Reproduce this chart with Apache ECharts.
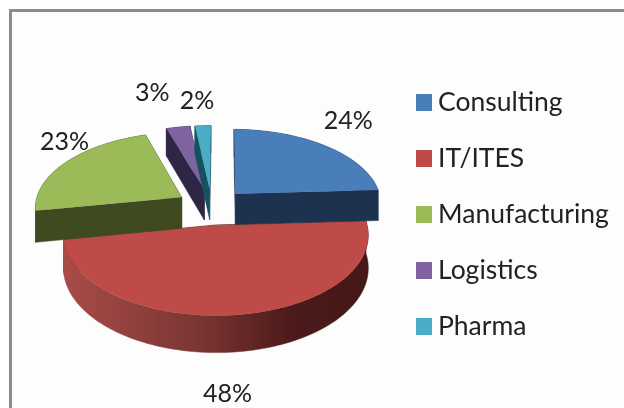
<!DOCTYPE html>
<html>
<head>
<meta charset="utf-8">
<title>Sector share</title>
<style>
  html, body { margin: 0; padding: 0; background: #fff; }
  #chart { width: 624px; height: 408px; }
</style>
<script src="https://cdn.jsdelivr.net/npm/echarts@6/dist/echarts.min.js"></script>
</head>
<body>
<div id="chart"></div>
<script>
  // 数据
  const categories = ['Consulting', 'IT/ITES', 'Manufacturing', 'Logistics', 'Pharma'];
  const shares = [24, 48, 23, 3, 2];

  // 样式
  const topColors = ['#4a7ebb', '#be4b48', '#9bbb59', '#8064a2', '#4bacc6'];
  const wallColors = ['#1d324e', '#4c1a1a', '#3f4a20', '#2f2545', '#17505f'];
  const paintOrder = [3, 1, 2, 4, 5];
  const labelNudge = [[23, -25], [-9, 79], [-2, -20], [-26, -34], [-6, -25]];

  // 透视饼图参数
  const centerX = 211.5;
  const centerY = 206.5;
  const radiusX = 147;
  const radiusY = 75;
  const thickness = 31.5;
  const perspective = 0.12;
  const explode = 0.24;
  const firstAngle = 0.5;

  const total = shares.reduce((a, b) => a + b, 0);
  const toRad = (d) => (d * Math.PI) / 180;

  // 投影: 角度 0 在正上方, 顺时针
  const project = (offset, deg, r, drop) => {
    const u = offset[0] + r * Math.sin(toRad(deg));
    const v = offset[1] - r * Math.cos(toRad(deg));
    const s = 1 / (1 - perspective * v);
    return [centerX + radiusX * u * s, centerY + radiusY * v * s + drop * s];
  };

  const wall = (points, fill) => ({
    type: 'polygon',
    shape: { points },
    style: { fill, stroke: fill, lineWidth: 0.5 },
  });

  const makeRenderItem = (index) => (params, api) => {
    const value = api.value(0);
    const before = shares.slice(0, index).reduce((a, b) => a + b, 0);
    const start = firstAngle + (before / total) * 360;
    const end = start + (value / total) * 360;
    const mid = (start + end) / 2;
    const offset = [explode * Math.sin(toRad(mid)), -explode * Math.cos(toRad(mid))];

    const rimTop = [];
    const rimBottom = [];
    for (let a = start; a < end; a += 1) {
      rimTop.push(project(offset, a, 1, 0));
      rimBottom.push(project(offset, a, 1, thickness));
    }
    rimTop.push(project(offset, end, 1, 0));
    rimBottom.push(project(offset, end, 1, thickness));

    const apexTop = project(offset, mid, 0, 0);
    const apexBottom = project(offset, mid, 0, thickness);
    const dark = wallColors[index];

    // 红色块的外侧面用渐变
    const rimFill =
      index === 1
        ? new echarts.graphic.LinearGradient(0, 0, 1, 0, [
            { offset: 0, color: '#a84c48' },
            { offset: 0.45, color: '#7a3533' },
            { offset: 0.75, color: '#4c1a1a' },
            { offset: 1, color: '#451817' },
          ])
        : dark;

    const labelAt = project(offset, mid, 1, 0);

    return {
      type: 'group',
      children: [
        wall([apexTop, rimTop[0], rimBottom[0], apexBottom], dark),
        wall([apexTop, rimTop[rimTop.length - 1], rimBottom[rimBottom.length - 1], apexBottom], dark),
        wall(rimTop.concat(rimBottom.slice().reverse()), rimFill),
        {
          type: 'polygon',
          shape: { points: [apexTop].concat(rimTop) },
          style: { fill: topColors[index] },
        },
        {
          type: 'text',
          style: {
            text: value + '%',
            x: labelAt[0] + labelNudge[index][0],
            y: labelAt[1] + labelNudge[index][1],
            align: 'center',
            verticalAlign: 'middle',
            fill: '#222',
            fontSize: 25,
            fontFamily: 'Lato',
          },
        },
      ],
    };
  };

  const chart = echarts.init(document.getElementById('chart'), null, { renderer: 'canvas' });

  chart.setOption({
    animation: false,
    backgroundColor: '#fff',
    graphic: [
      { type: 'rect', z: 0, shape: { x: 12, y: 12, width: 612, height: 396 }, style: { fill: '#fdfdfd' } },
      { type: 'rect', z: 1, shape: { x: 9, y: 9, width: 615, height: 3 }, style: { fill: '#8c8c8c' } },
      { type: 'rect', z: 1, shape: { x: 9, y: 9, width: 3, height: 399 }, style: { fill: '#8c8c8c' } },
    ],
    legend: {
      orient: 'vertical',
      left: 416,
      top: 89,
      padding: 0,
      icon: 'rect',
      itemWidth: 16,
      itemHeight: 17,
      itemGap: 29,
      selectedMode: false,
      data: categories,
      textStyle: {
        color: '#222',
        fontSize: 26.5,
        fontFamily: 'Lato',
        lineHeight: 24,
        padding: [0, 0, 0, 1],
      },
    },
    series: categories.map((name, i) => ({
      name,
      type: 'custom',
      coordinateSystem: 'none',
      silent: true,
      z: paintOrder[i],
      itemStyle: { color: topColors[i] },
      renderItem: makeRenderItem(i),
      data: [[shares[i]]],
    })),
  });
</script>
</body>
</html>
